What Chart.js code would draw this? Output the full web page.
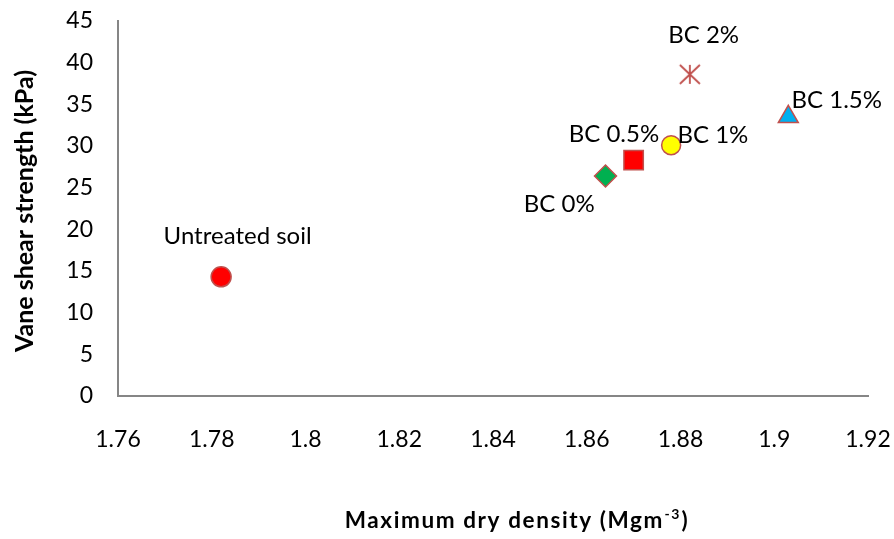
<!DOCTYPE html>
<html>
<head>
<meta charset="utf-8">
<script src="https://cdn.jsdelivr.net/npm/chart.js@4"></script>
<style>
  html, body { margin: 0; padding: 0; background: #ffffff; }
  canvas { display: block; }
</style>
</head>
<body>
<canvas id="chart" width="894" height="539"></canvas>
<script>
// Mixes: untreated soil and biochar (BC) dosages
const categories = ['Untreated soil', 'BC 0%', 'BC 0.5%', 'BC 1%', 'BC 1.5%', 'BC 2%'];
// Maximum dry density, Mg/m3
const densityValues = [1.782, 1.864, 1.870, 1.878, 1.903, 1.882];
// Vane shear strength, kPa
const strengthValues = [14.3, 26.4, 28.3, 30.1, 33.5, 38.6];

const xTickValues = [1.76, 1.78, 1.80, 1.82, 1.84, 1.86, 1.88, 1.90, 1.92];
const yTickValues = [0, 5, 10, 15, 20, 25, 30, 35, 40, 45];

const xAxisTitle = 'Maximum dry density (Mgm';
const xAxisTitleSup = '-3';
const xAxisTitleEnd = ')';
const yAxisTitle = 'Vane shear strength (kPa)';

const FONT = 'Lato, "Open Sans", sans-serif';
const EDGE = '#C0504D';
const AXIS = '#868686';

// "*" marker: vertical stroke plus an X
function asteriskMarker(w, h, color) {
  const c = document.createElement('canvas');
  c.width = w + 4; c.height = h + 4;
  const g = c.getContext('2d');
  g.strokeStyle = color;
  g.lineWidth = 1.8;
  const cx = c.width / 2, cy = c.height / 2;
  g.beginPath();
  g.moveTo(cx, cy - h / 2); g.lineTo(cx, cy + h / 2);
  g.moveTo(cx - w / 2, cy - h / 2); g.lineTo(cx + w / 2, cy + h / 2);
  g.moveTo(cx + w / 2, cy - h / 2); g.lineTo(cx - w / 2, cy + h / 2);
  g.stroke();
  return c;
}

const markerStyles = [
  { pointStyle: 'circle',   radius: 10,   fill: '#FF0000' },
  { pointStyle: 'rectRot',  radius: 11,   fill: '#00B050' },
  { pointStyle: 'rect',     radius: 13.7, fill: '#FF0000' },
  { pointStyle: 'circle',   radius: 9.5,  fill: '#FFFF00' },
  { pointStyle: 'triangle', radius: 11.5, fill: '#00B0F0' },
  { pointStyle: asteriskMarker(20, 19, EDGE), radius: 10, fill: EDGE }
];

// label centre / baseline offset (px) from its marker
const labelOffsets = [
  [16.5, -32.7],
  [-46.3, 35.5],
  [-19.7, -18.6],
  [41.8, -2.3],
  [48.5, -9.2],
  [13.8, -31.4]
];

const datasets = categories.map((name, i) => ({
  label: name,
  data: [{ x: densityValues[i], y: strengthValues[i] }],
  pointStyle: markerStyles[i].pointStyle,
  pointRadius: markerStyles[i].radius,
  pointHoverRadius: markerStyles[i].radius,
  backgroundColor: markerStyles[i].fill,
  borderColor: EDGE,
  borderWidth: 1.5,
  showLine: false
}));

const pointLabelPlugin = {
  id: 'pointLabels',
  afterDatasetsDraw(chart) {
    const ctx = chart.ctx;
    ctx.save();
    ctx.font = '24px ' + FONT;
    ctx.fillStyle = '#000000';
    ctx.textAlign = 'center';
    ctx.textBaseline = 'alphabetic';
    chart.data.datasets.forEach((ds, i) => {
      const el = chart.getDatasetMeta(i).data[0];
      if (!el) return;
      const [dx, dy] = labelOffsets[i];
      ctx.fillText(ds.label, el.x + dx, el.y + dy);
    });
    ctx.restore();
  }
};

const axisTitlePlugin = {
  id: 'axisTitles',
  afterDraw(chart) {
    const ctx = chart.ctx;
    const area = chart.chartArea;
    ctx.save();
    ctx.fillStyle = '#000000';
    ctx.textBaseline = 'alphabetic';
    // x title with superscript
    const main = 'bold 22.5px ' + FONT;
    const sup = 'bold 14px ' + FONT;
    if ('letterSpacing' in ctx) ctx.letterSpacing = '1.6px';
    ctx.font = main;
    const w1 = ctx.measureText(xAxisTitle).width;
    const w3 = ctx.measureText(xAxisTitleEnd).width;
    ctx.font = sup;
    const w2 = ctx.measureText(xAxisTitleSup).width;
    const total = w1 + w2 + w3 + 1;
    const cx = (area.left + area.right) / 2 + 24;
    let x = cx - total / 2;
    const base = 528;
    ctx.textAlign = 'left';
    ctx.font = main;
    ctx.fillText(xAxisTitle, x, base);
    x += w1 + 0.5;
    ctx.font = sup;
    ctx.fillText(xAxisTitleSup, x, base - 9);
    x += w2 + 0.5;
    ctx.font = main;
    ctx.fillText(xAxisTitleEnd, x, base);
    if ('letterSpacing' in ctx) ctx.letterSpacing = '0px';
    // y title
    ctx.translate(33, 211);
    ctx.rotate(-Math.PI / 2);
    ctx.textAlign = 'center';
    ctx.font = 'bold 25px ' + FONT;
    ctx.fillText(yAxisTitle, 0, 0);
    ctx.restore();
  }
};

new Chart(document.getElementById('chart'), {
  type: 'scatter',
  data: { datasets },
  plugins: [pointLabelPlugin, axisTitlePlugin],
  options: {
    responsive: false,
    animation: false,
    events: [],
    layout: { padding: { left: 0, right: 26, top: 21, bottom: 0 } },
    plugins: {
      legend: { display: false },
      tooltip: { enabled: false }
    },
    scales: {
      x: {
        type: 'linear',
        min: xTickValues[0],
        max: xTickValues[xTickValues.length - 1],
        afterBuildTicks: (scale) => { scale.ticks = xTickValues.map(v => ({ value: v })); },
        afterFit: (scale) => {
          scale.height = 539 - 396;
          scale.paddingLeft = 0;
          scale.paddingRight = 0;
        },
        grid: { display: false, drawTicks: false },
        border: { display: true, color: AXIS, width: 2 },
        ticks: {
          padding: 30,
          maxRotation: 0,
          autoSkip: false,
          color: '#000000',
          font: { family: FONT, size: 23 },
          callback: (v) => String(parseFloat(Number(v).toFixed(2)))
        }
      },
      y: {
        type: 'linear',
        min: yTickValues[0],
        max: yTickValues[yTickValues.length - 1],
        afterBuildTicks: (scale) => { scale.ticks = yTickValues.map(v => ({ value: v })); },
        afterFit: (scale) => {
          scale.width = 118;
          scale.paddingTop = 0;
          scale.paddingBottom = 0;
        },
        grid: { display: false, drawTicks: false },
        border: { display: true, color: AXIS, width: 2 },
        ticks: {
          padding: 25,
          autoSkip: false,
          color: '#000000',
          font: { family: FONT, size: 23 },
          callback: (v) => String(v)
        }
      }
    }
  }
});
</script>
</body>
</html>
